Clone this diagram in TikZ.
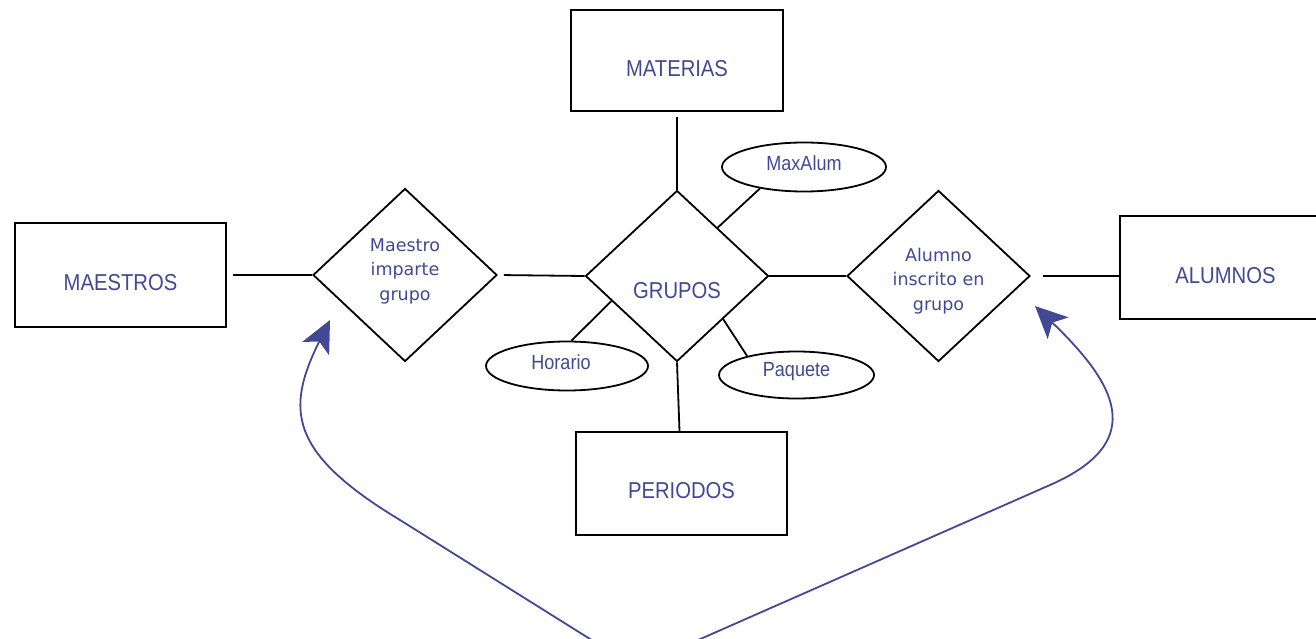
\documentclass[tikz,border=0pt]{standalone}
\usepackage{fontspec}
\setmainfont{Liberation Sans}
\newfontfamily\boxfont[FakeStretch=0.88]{Liberation Sans}
\newfontfamily\relfont{DejaVu Sans}
\usetikzlibrary{shapes.geometric,arrows.meta,calc}
\definecolor{ink}{RGB}{66,72,150}

\tikzset{
  entity/.style={draw, line width=1.8pt, minimum width=211pt, minimum height=103pt, inner sep=0pt},
  rel/.style={draw, diamond, line width=1.8pt, minimum width=183pt, minimum height=171pt, inner sep=0pt},
  attr/.style={draw, ellipse, line width=1.8pt, inner sep=0pt},
  etxt/.style={text=ink, font=\boxfont\fontsize{23}{27}\selectfont},
  atxt/.style={text=ink, font=\boxfont\fontsize{20.5}{24}\selectfont},
  rtxt/.style={text=ink, font=\relfont\fontsize{17.5}{24.5}\selectfont, align=center},
  link/.style={draw, line width=1.8pt},
  flow/.style={draw=ink, line width=1.8pt, -{Stealth[length=32pt,width=30pt,inset=8pt]}}
}

\begin{document}
\begin{tikzpicture}[x=1pt,y=-1pt]
\clip (0,0) rectangle (1316,639);

% entities
\node[entity, minimum width=212pt, minimum height=101pt,
      label={[etxt,yshift=-8.5pt]center:MATERIAS}] (materias) at (677,60.5) {};
\node[entity, minimum height=104pt,
      label={[etxt,yshift=-8pt]center:MAESTROS}] (maestros) at (120.5,275) {};
\node[entity, label={[etxt,yshift=-8.5pt]center:ALUMNOS}] (alumnos) at (1225.5,267.5) {};
\node[entity, label={[etxt,yshift=-7.5pt]center:PERIODOS}] (periodos) at (681.5,483.5) {};

% relationships
\node[rel, label={[etxt,yshift=-15pt]center:GRUPOS}] (grupos) at (677,276) {};
\node[rel, minimum width=184pt, minimum height=173pt,
      label={[rtxt,yshift=4pt]center:{Maestro\\imparte\\grupo}}] (maestro) at (405,275) {};
\node[rel, label={[rtxt,yshift=-5pt]center:{Alumno\\inscrito en\\grupo}}] (alumno) at (938.5,276) {};

% attributes
\node[attr, minimum width=164pt, minimum height=49pt,
      label={[atxt,yshift=4pt]center:MaxAlum}] (maxalum) at (804,167) {};
\node[attr, minimum width=155pt, minimum height=47pt,
      label={[atxt,yshift=3.5pt]center:Paquete}] (paquete) at (796.5,375) {};
\node[attr, minimum width=162pt, minimum height=49pt,
      label={[atxt,xshift=-6pt,yshift=4pt]center:Horario}] (horario) at (567,366) {};

% connections
\draw[link, shorten <=6pt] (maestros.east) -- (maestro.west);
\draw[link, shorten <=6pt] (maestro.east) -- (grupos.west);
\draw[link] (grupos.east) -- (alumno.west);
\draw[link, shorten <=12pt] (alumno.east) -- (alumno.east -| alumnos.west);
\draw[link, shorten <=5pt] (materias.south) -- (grupos.north);
\draw[link] (grupos.south) -- ($(periodos.north)+(-2,0)$);
\draw[link] ($(grupos.north)!0.44!(grupos.east)$) -- (maxalum.206);
\draw[link] ($(grupos.west)!0.29!(grupos.south)$) -- (horario.80);
\draw[link] ($(grupos.south)!0.5!(grupos.east)$) -- (paquete.159);

% curved arrows
\coordinate (lfoot) at (598,644);
\coordinate (ltip) at (330,320);
\coordinate (rfoot) at (689,644);
\coordinate (rtip) at (1035,306);
\draw[flow] (lfoot) -- (400,520)
  .. controls (289,453) and (285,410) .. (ltip);
\draw[flow] (rfoot) -- (1050,485)
  .. controls (1150.6,441) and (1114,382) .. (rtip);
\end{tikzpicture}
\end{document}
